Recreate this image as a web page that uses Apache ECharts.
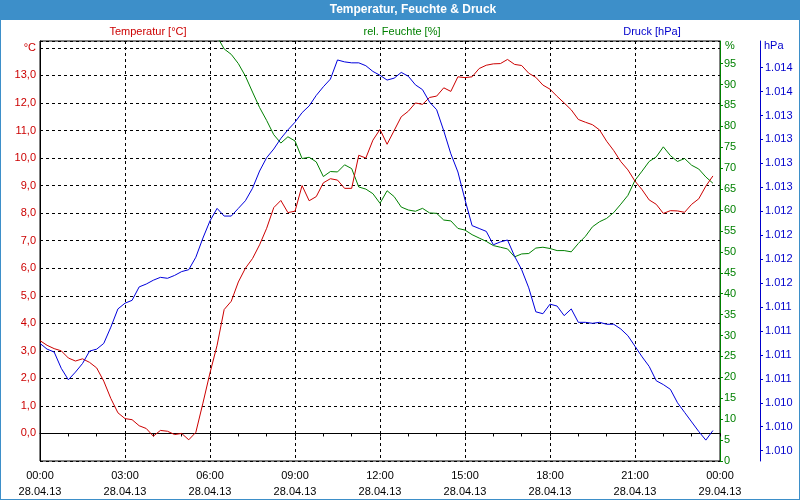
<!DOCTYPE html>
<html>
<head>
<meta charset="utf-8">
<script src="https://cdn.jsdelivr.net/npm/echarts@6/dist/echarts.min.js"></script>
<style>html,body{margin:0;padding:0;background:#fff}#c{width:800px;height:500px}</style>
</head>
<body>
<div id="c"></div>
<script>
// Sampling: one value every 15 minutes, starting 28.04.13 00:00
const stepHours = 0.25;

const temperature = [3.37,3.2,3.08,3.0,2.74,2.63,2.71,2.58,2.38,1.9,
  1.27,0.75,0.54,0.5,0.28,0.18,-0.1,0.11,0.08,-0.04,
  0.0,-0.23,0.04,1.1,2.2,3.2,4.5,4.8,5.5,6.0,
  6.35,6.85,7.45,8.2,8.46,8.02,8.07,9.0,8.45,8.6,
  9.1,9.25,9.2,8.9,8.9,10.1,10.0,10.65,11.04,10.5,
  11.0,11.5,11.7,12.0,11.95,12.2,12.25,12.55,12.42,12.95,
  12.92,12.95,13.25,13.37,13.42,13.43,13.58,13.4,13.36,13.08,
  12.93,12.65,12.5,12.24,12.0,11.75,11.4,11.3,11.21,11.02,
  10.61,10.27,9.87,9.57,9.16,8.85,8.48,8.32,7.99,8.09,
  8.08,8.03,8.32,8.52,8.98,9.35];

const humidity = [null,null,null,null,null,null,null,null,null,null,
  null,null,null,null,null,null,null,null,null,null,
  null,null,null,null,null,101.5,98.5,97.2,95.0,92.0,
  88.2,84.5,81.4,78.0,76.0,77.5,76.5,72.3,72.6,71.5,
  68.0,69.2,69.1,70.8,69.9,65.5,65.0,63.9,61.6,64.6,
  63.2,60.7,60.0,59.7,60.4,59.3,59.2,57.6,57.4,55.6,
  55.2,54.1,53.3,52.5,51.5,51.1,50.7,48.8,49.5,49.6,
  50.9,51.1,50.8,50.3,50.3,50.0,52.0,53.7,56.0,57.2,
  58.0,59.4,61.4,63.5,67.1,69.3,71.6,72.7,75.1,73.0,
  71.6,72.3,70.7,69.8,67.9,66.4];

const pressure = [1011.37,1011.31,1011.28,1011.11,1010.99,1011.07,1011.16,1011.29,1011.31,1011.37,
  1011.54,1011.73,1011.79,1011.82,1011.96,1011.99,1012.03,1012.06,1012.05,1012.08,
  1012.12,1012.14,1012.27,1012.47,1012.65,1012.78,1012.70,1012.70,1012.78,1012.86,
  1012.99,1013.17,1013.31,1013.40,1013.51,1013.60,1013.68,1013.78,1013.85,1013.96,
  1014.05,1014.13,1014.33,1014.31,1014.30,1014.30,1014.27,1014.21,1014.17,1014.12,
  1014.14,1014.20,1014.16,1014.07,1014.02,1013.89,1013.81,1013.59,1013.35,1013.16,
  1012.87,1012.60,1012.57,1012.54,1012.40,1012.43,1012.45,1012.28,1012.14,1011.95,
  1011.70,1011.68,1011.78,1011.76,1011.66,1011.73,1011.59,1011.59,1011.58,1011.59,
  1011.57,1011.57,1011.52,1011.45,1011.34,1011.23,1011.13,1010.98,1010.94,1010.89,
  1010.75,1010.65,1010.55,1010.45,1010.36,1010.46];

const xTickLabels = ['00:00\n28.04.13','03:00\n28.04.13','06:00\n28.04.13','09:00\n28.04.13',
  '12:00\n28.04.13','15:00\n28.04.13','18:00\n28.04.13','21:00\n28.04.13','00:00\n29.04.13'];
const humidityTicks = [0,5,10,15,20,25,30,35,40,45,50,55,60,65,70,75,80,85,90,95];
const pressureTicks = [1010.25,1010.5,1010.75,1011,1011.25,1011.5,1011.75,1012,1012.25,
  1012.5,1012.75,1013,1013.25,1013.5,1013.75,1014,1014.25];

const RED = '#cc0000', GREEN = '#008000', BLUE = '#0000cc', FRAME = '#3d8fc9';
const FONT = "'Liberation Sans', Arial, sans-serif";

function pairs(arr) { return arr.map((v, i) => [i * stepHours, v]); }

const chart = echarts.init(document.getElementById('c'), null, {renderer: 'canvas'});
chart.setOption({
  animation: false,
  backgroundColor: '#fff',
  textStyle: {fontFamily: FONT},
  grid: {left: 40, right: 80, top: 41, bottom: 39, show: true, borderColor: '#000', borderWidth: 1, backgroundColor: 'transparent'},
  xAxis: {
    type: 'value', min: 0, max: 24, interval: 3,
    axisLine: {lineStyle: {color: '#000', width: 1}},
    axisTick: {show: true, length: 3, lineStyle: {color: '#000'}},
    minorTick: {show: true, splitNumber: 3, length: 3, lineStyle: {color: '#000'}},
    splitLine: {show: true, lineStyle: {color: '#000', type: [3, 3], width: 1}},
    axisLabel: {
      color: '#000', fontSize: 11, fontFamily: FONT, lineHeight: 16, margin: 7,
      showMinLabel: true, showMaxLabel: true, hideOverlap: false,
      formatter: v => xTickLabels[Math.round(v / 3)] || ''
    }
  },
  yAxis: [
    {
      type: 'value', position: 'left', min: -1, max: 14.25, interval: 1,
      axisLine: {show: true, lineStyle: {color: '#000', width: 1}},
      axisTick: {show: false},
      splitLine: {show: true, lineStyle: {color: '#000', type: [3, 3], width: 1}},
      axisLabel: {
        color: RED, fontSize: 11, fontFamily: FONT, margin: 4,
        showMinLabel: true, showMaxLabel: true,
        formatter: v => {
          if (Math.abs(v - 14) < 1e-6) return '°C';
          if (v < -0.5 || v > 14.1 || Math.abs(v - Math.round(v)) > 1e-6) return '';
          return v.toFixed(1).replace('.', ',');
        }
      }
    },
    {
      type: 'value', position: 'right', offset: 0, min: 0, max: 100.4,
      axisLine: {show: true, lineStyle: {color: GREEN, width: 1}},
      axisTick: {show: true, length: 3, customValues: humidityTicks, lineStyle: {color: GREEN}},
      splitLine: {show: false},
      axisLabel: {color: GREEN, fontSize: 11, fontFamily: FONT, margin: 4, customValues: humidityTicks,
        formatter: v => String(Math.round(v))}
    },
    {
      type: 'value', position: 'right', offset: 40, min: 1010.142, max: 1014.528,
      axisLine: {show: true, lineStyle: {color: BLUE, width: 1}},
      axisTick: {show: true, length: 3, customValues: pressureTicks, lineStyle: {color: BLUE}},
      splitLine: {show: false},
      axisLabel: {color: BLUE, fontSize: 11, fontFamily: FONT, margin: 5, customValues: pressureTicks,
        formatter: v => (Math.floor(v + 1e-9) / 1000).toFixed(3)}
    }
  ],
  series: [
    {name: 'Temperatur', type: 'line', yAxisIndex: 0, data: pairs(temperature), showSymbol: false,
      lineStyle: {color: RED, width: 1}, itemStyle: {color: RED}, z: 3},
    {name: 'rel. Feuchte', type: 'line', yAxisIndex: 1, data: pairs(humidity), showSymbol: false,
      lineStyle: {color: GREEN, width: 1}, itemStyle: {color: GREEN}, z: 2},
    {name: 'Druck', type: 'line', yAxisIndex: 2, data: pairs(pressure), showSymbol: false,
      lineStyle: {color: '#0000dd', width: 1}, itemStyle: {color: '#0000dd'}, z: 4}
  ],
  graphic: [
    {type: 'rect', shape: {x: 0, y: 0, width: 800, height: 20}, style: {fill: FRAME}, z: 10},
    {type: 'text', x: 413, y: 10, style: {text: 'Temperatur, Feuchte & Druck', fill: '#fff',
      font: "bold 12px 'Liberation Sans', Arial, sans-serif", textAlign: 'center', textVerticalAlign: 'middle'}, z: 11},
    {type: 'rect', shape: {x: 0, y: 0, width: 800, height: 500}, style: {fill: 'none', stroke: FRAME, lineWidth: 2}, z: 12},
    {type: 'text', x: 148, y: 32, style: {text: 'Temperatur [°C]', fill: RED, font: "11px 'Liberation Sans', Arial, sans-serif",
      textAlign: 'center', textVerticalAlign: 'middle'}, z: 10},
    {type: 'text', x: 402, y: 32, style: {text: 'rel. Feuchte [%]', fill: GREEN, font: "11px 'Liberation Sans', Arial, sans-serif",
      textAlign: 'center', textVerticalAlign: 'middle'}, z: 10},
    {type: 'text', x: 652, y: 32, style: {text: 'Druck [hPa]', fill: BLUE, font: "11px 'Liberation Sans', Arial, sans-serif",
      textAlign: 'center', textVerticalAlign: 'middle'}, z: 10},
    {type: 'text', x: 725, y: 46, style: {text: '%', fill: GREEN, font: "11px 'Liberation Sans', Arial, sans-serif",
      textAlign: 'left', textVerticalAlign: 'middle'}, z: 10},
    {type: 'text', x: 764, y: 46, style: {text: 'hPa', fill: BLUE, font: "11px 'Liberation Sans', Arial, sans-serif",
      textAlign: 'left', textVerticalAlign: 'middle'}, z: 10}
  ]
});
</script>
</body>
</html>
